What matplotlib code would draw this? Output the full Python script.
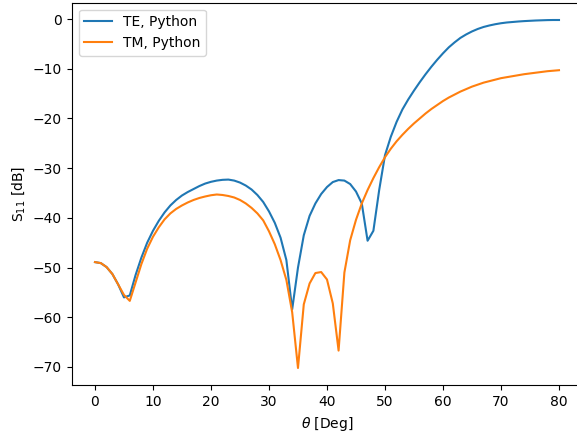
import matplotlib
matplotlib.use("Agg")
import matplotlib.pyplot as plt
import numpy as np

theta = np.arange(0, 81)

# TE reflection, dB
s11_te = [-48.9, -49.1, -49.9, -51.3, -53.4, -56.0, -55.6, -51.5, -48.0, -45.0,
          -42.6, -40.6, -38.9, -37.5, -36.4, -35.5, -34.8, -34.2, -33.6, -33.1,
          -32.75, -32.5, -32.35, -32.3, -32.5, -32.9, -33.5, -34.3, -35.4, -36.8,
          -38.7, -41.0, -44.0, -48.5, -58.4, -50.0, -43.5, -39.6, -37.1, -35.2,
          -33.8, -32.8, -32.4, -32.5, -33.2, -34.7, -37.1, -44.6, -42.6, -34.4,
          -27.4, -23.7, -20.7, -18.2, -16.2, -14.4, -12.7, -11.1, -9.6, -8.2,
          -6.9, -5.7, -4.7, -3.8, -3.1, -2.5, -2.0, -1.6, -1.3, -1.05,
          -0.85, -0.7, -0.6, -0.5, -0.42, -0.36, -0.3, -0.26, -0.22, -0.2,
          -0.2]

# TM reflection, dB
s11_tm = [-48.9, -49.1, -49.9, -51.3, -53.4, -55.5, -56.7, -53.0, -49.3, -46.2,
          -43.8, -41.9, -40.3, -39.1, -38.2, -37.5, -36.9, -36.4, -36.0, -35.7,
          -35.45, -35.3, -35.4, -35.6, -35.9, -36.4, -37.1, -38.0, -39.1, -40.5,
          -42.7, -45.3, -48.5, -52.5, -59.0, -70.2, -57.4, -53.2, -51.1, -50.9,
          -52.4, -57.2, -66.7, -51.0, -44.5, -40.4, -37.1, -34.4, -32.0, -29.8,
          -27.8, -26.1, -24.6, -23.3, -22.1, -21.0, -20.0, -19.0, -18.1, -17.3,
          -16.5, -15.8, -15.2, -14.6, -14.1, -13.6, -13.2, -12.8, -12.5, -12.2,
          -11.9, -11.7, -11.5, -11.3, -11.1, -10.95, -10.8, -10.65, -10.5, -10.4,
          -10.3]

fig = plt.figure(figsize=(5.77, 4.34), dpi=100)
ax = fig.add_axes([0.1244, 0.112, 0.8846, 0.882])
ax.plot(theta, s11_te, label='TE, Python')
ax.plot(theta, s11_tm, label='TM, Python')
ax.set_xlabel(r'$\theta$ [Deg]')
ax.set_ylabel(r'S$_{11}$ [dB]')
ax.legend(loc='upper left')
fig.savefig('out.png', dpi=100)
